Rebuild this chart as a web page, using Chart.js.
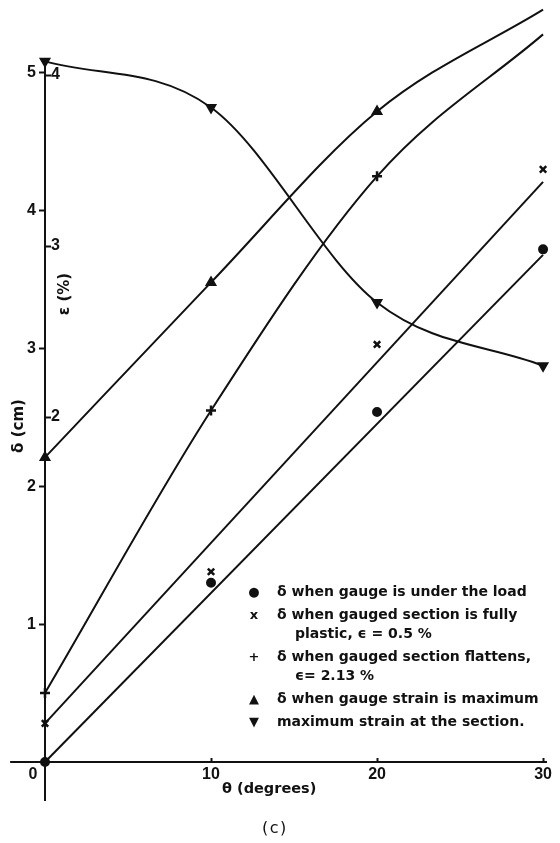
<!DOCTYPE html>
<html>
<head>
<meta charset="utf-8">
<script src="https://cdn.jsdelivr.net/npm/chart.js@4/dist/chart.umd.min.js"></script>
<style>
  html, body { margin: 0; padding: 0; background: #fff; }
  #wrap { position: relative; width: 560px; height: 843px; overflow: hidden; }
  #plot { position: absolute; left: 0; top: 0; }
  .lbl { position: absolute; font-family: "DejaVu Sans", sans-serif; font-weight: bold; color: #111; white-space: nowrap; }
  .rot { transform: translate(-50%, -50%) rotate(-90deg); }
  #legend { position: absolute; left: 246px; top: 582px; font-family: "DejaVu Sans", sans-serif; font-weight: bold; font-size: 14px; color: #111; }
  #legend .item { position: relative; line-height: 19px; margin-bottom: 4px; padding-left: 31px; white-space: nowrap; }
  #legend .sym { position: absolute; left: 0; top: 0; width: 16px; text-align: center; font-size: 13px; }
  #legend .cont { padding-left: 18px; }
</style>
</head>
<body>
<div id="wrap">
  <canvas id="plot" width="560" height="843"></canvas>
  <div class="lbl rot" style="left:18px; top:426px; font-size:15px;">δ (cm)</div>
  <div class="lbl rot" style="left:64px; top:294px; font-size:15px;">ε (%)</div>
  <div class="lbl" style="left:222px; top:780px; font-size:14.5px;">θ (degrees)</div>
  <div class="lbl" style="left:262px; top:818px; font-size:16px; font-weight:normal; letter-spacing:1.5px;">(c)</div>
  <div id="legend"></div>
</div>
<script>
// Test angle θ (degrees) at which each quantity was measured
const theta = [0, 10, 20, 30];

// Deflection δ (cm)
const deltaUnderLoad      = [0, 1.30, 2.54, 3.72];
const deltaFullyPlastic   = [0.28, 1.38, 3.03, 4.30];
const deltaFlattens       = [0.50, 2.55, 4.25, 5.28];
const deltaMaxGaugeStrain = [2.21, 3.48, 4.72, 5.46];

// Maximum strain at the section, ε (%)
const maxStrain = [4.08, 3.81, 2.67, 2.30];

// Straight lines drawn through the first two δ series
const fitTheta        = [0, 30];
const fitUnderLoad    = [0, 3.68];
const fitFullyPlastic = [0.28, 4.21];

// Tick values
const thetaTicks  = [0, 10, 20, 30];
const deltaTicks  = [1, 2, 3, 4, 5];
const strainTicks = [2, 3, 4];

// Legend text
const seriesLabels = [
  ['δ when gauge is under the load'],
  ['δ when gauged section is fully', 'plastic, ϵ = 0.5 %'],
  ['δ when gauged section flattens,', 'ϵ= 2.13 %'],
  ['δ when gauge strain is maximum'],
  ['maximum strain at the section.']
];
const legendSymbols = ['●', 'x', '+', '▲', '▼'];

const ink = '#111';
const pts = (xs, ys) => xs.map((x, i) => ({ x, y: ys[i] }));
const setTicks = values => scale => { scale.ticks = values.map(v => ({ value: v })); };
const tickFont = { family: 'Liberation Sans', weight: 'bold', size: 16 };

// The horizontal axis continues a little to the left of the vertical one
const AXIS_LEFT_THETA = -2.1;
const crossAxis = {
  id: 'crossAxis',
  beforeDatasetsDraw(chart) {
    const x = chart.scales.x, y = chart.scales.y;
    const py = y.getPixelForValue(0);
    const ctx = chart.ctx;
    ctx.save();
    ctx.strokeStyle = ink;
    ctx.lineWidth = 2;
    ctx.beginPath();
    ctx.moveTo(x.getPixelForValue(AXIS_LEFT_THETA), py);
    ctx.lineTo(x.left, py);
    ctx.stroke();
    ctx.restore();
  }
};

const lineStyle = { borderColor: ink, backgroundColor: ink, borderWidth: 2, clip: false };

new Chart(document.getElementById('plot'), {
  type: 'scatter',
  data: {
    datasets: [
      Object.assign({ label: 'fit1', data: pts(fitTheta, fitUnderLoad), showLine: true, pointRadius: 0 }, lineStyle),
      Object.assign({ label: 'fit2', data: pts(fitTheta, fitFullyPlastic), showLine: true, pointRadius: 0 }, lineStyle),
      Object.assign({ label: seriesLabels[0].join(' '), data: pts(theta, deltaUnderLoad), showLine: false,
        pointStyle: 'circle', pointRadius: 4 }, lineStyle),
      Object.assign({ label: seriesLabels[1].join(' '), data: pts(theta, deltaFullyPlastic), showLine: false,
        pointStyle: 'crossRot', pointRadius: 4.5, pointBorderWidth: 2.5 }, lineStyle),
      Object.assign({ label: seriesLabels[2].join(' '), data: pts(theta, deltaFlattens), showLine: true,
        cubicInterpolationMode: 'monotone', pointStyle: 'cross', pointRadius: 5, pointBorderWidth: 2.5 }, lineStyle),
      Object.assign({ label: seriesLabels[3].join(' '), data: pts(theta, deltaMaxGaugeStrain), showLine: true,
        cubicInterpolationMode: 'monotone', pointStyle: 'triangle', pointRadius: 5 }, lineStyle),
      Object.assign({ label: seriesLabels[4].join(' '), data: pts(theta, maxStrain), yAxisID: 'y2', showLine: true,
        cubicInterpolationMode: 'monotone', pointStyle: 'triangle', pointRotation: 180, pointRadius: 5 }, lineStyle)
    ]
  },
  options: {
    responsive: false,
    animation: false,
    layout: { padding: { left: 0, top: 60, right: 8, bottom: 43 } },
    plugins: { legend: { display: false }, tooltip: { enabled: false } },
    scales: {
      x: {
        type: 'linear', position: { y: 0 }, min: 0, max: 30.18,
        afterBuildTicks: setTicks(thetaTicks),
        afterFit: s => { s.height = 0; },
        grid: { drawOnChartArea: false, tickLength: -5, tickWidth: 2, tickColor: ink },
        border: { color: ink, width: 2 },
        ticks: { padding: 8, color: ink, font: tickFont, maxRotation: 0, autoSkip: false,
          callback: v => v === 0 ? '0\u2003\u2002' : String(v) }
      },
      y: {
        type: 'linear', position: 'left', weight: 1, min: -0.276, max: 5.094,
        afterBuildTicks: setTicks(deltaTicks),
        afterFit: s => { s.width = 45; },
        grid: { drawOnChartArea: false, tickLength: 6, tickWidth: 2, tickColor: ink },
        border: { color: ink, width: 2 },
        ticks: { padding: 3, color: ink, font: tickFont }
      },
      y2: {
        type: 'linear', position: 'left', weight: 0, min: -0.240, max: 4.088,
        afterBuildTicks: setTicks(strainTicks),
        afterFit: s => { s.width = 0; },
        grid: { drawOnChartArea: false, tickLength: -6, tickWidth: 2, tickColor: ink },
        border: { display: false },
        ticks: { mirror: true, padding: 6, color: ink, font: tickFont }
      }
    }
  },
  plugins: [crossAxis]
});

// Legend entries
const legend = document.getElementById('legend');
seriesLabels.forEach((lines, i) => {
  const item = document.createElement('div');
  item.className = 'item';
  const sym = document.createElement('span');
  sym.className = 'sym';
  sym.textContent = legendSymbols[i];
  item.appendChild(sym);
  lines.forEach((t, j) => {
    const line = document.createElement('div');
    if (j > 0) line.className = 'cont';
    line.textContent = t;
    item.appendChild(line);
  });
  legend.appendChild(item);
});
</script>
</body>
</html>
